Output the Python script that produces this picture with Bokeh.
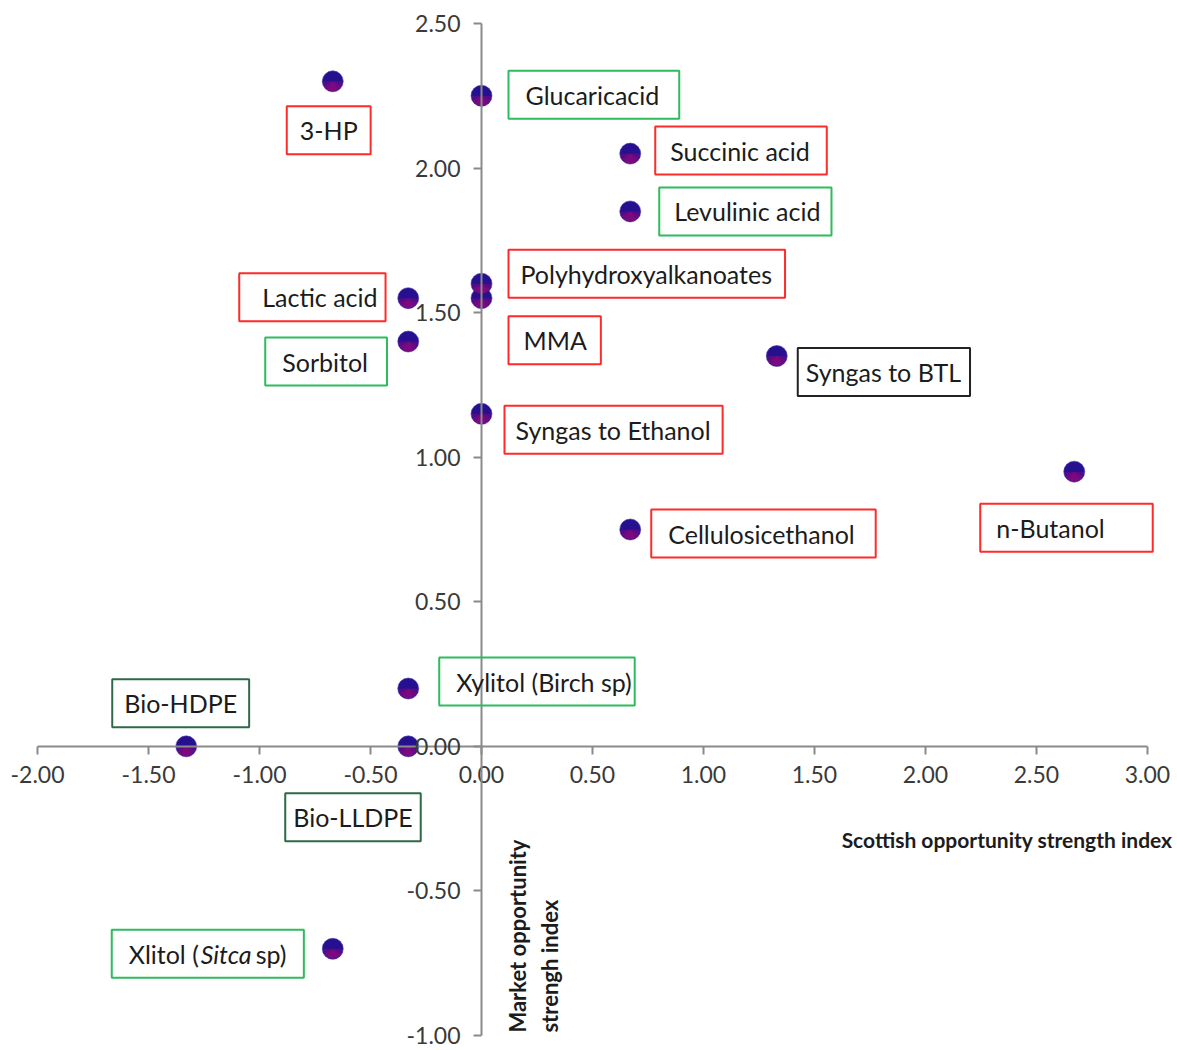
import math

from bokeh.embed import file_html
from bokeh.models import FixedTicker, Label, NumeralTickFormatter
from bokeh.plotting import figure
from bokeh.resources import INLINE

# ---- data -------------------------------------------------------------
products = [
    "3-HP", "Glucaricacid", "Succinic acid", "Levulinic acid",
    "Polyhydroxyalkanoates", "MMA", "Lactic acid", "Sorbitol",
    "Syngas to BTL", "Syngas to Ethanol", "n-Butanol", "Cellulosicethanol",
    "Xylitol (Birch sp)", "Bio-HDPE", "Bio-LLDPE", "Xlitol (Sitca sp)",
]
scottish_index = [-0.67, 0.00, 0.67, 0.67, 0.00, 0.00, -0.33, -0.33,
                  1.33, 0.00, 2.67, 0.67, -0.33, -1.33, -0.33, -0.67]
market_index = [2.30, 2.25, 2.05, 1.85, 1.60, 1.55, 1.55, 1.40,
                1.35, 1.15, 0.95, 0.75, 0.20, 0.00, 0.00, -0.70]
x_ticks = [-2.0, -1.5, -1.0, -0.5, 0.0, 0.5, 1.0, 1.5, 2.0, 2.5, 3.0]
y_ticks = [-1.0, -0.5, 0.0, 0.5, 1.0, 1.5, 2.0, 2.5]
x_title = "Scottish opportunity strength index"
y_title = ["Market opportunity", "strengh index"]

# ---- label styling: border colour, box offset from point (px), padding ----
RED, GREEN, BLACK, DARKGREEN = "#ff2a2a", "#2dbb5d", "#222222", "#2e6a48"
box_colour = [RED, GREEN, RED, GREEN, RED, RED, RED, GREEN,
              BLACK, RED, RED, RED, GREEN, DARKGREEN, DARKGREEN, GREEN]
box_dx = [-46, 27, 25, 29, 27, 27, -169, -143, 21, 23, -94, 21, 31, -74, -123, -221]
box_dy = [-49, 1, 3, 0, 10, -42, 1, -20, -16, -16, -56, -4, 7, 43, -71, -5]
pad_left = [13, 17, 15, 15, 12, 15, 23, 17, 8, 11, 16, 17, 17, 12, 8, 17]
pad_right = [13, 20, 17, 11, 13, 14, 8, 19, 9, 12, 48, 21, 3, 12, 8, 105]
PAD_V = 9

FONT = "Lato"
LABEL_SIZE = "25px"

# the frame fills the canvas; axes span -2..3 and -1..2.5 inside it
PX_PER_X = 222.0
PX_PER_Y = 289.14
x_lo, x_hi = -2.0 - 37 / PX_PER_X, 3.0 + 30 / PX_PER_X
y_lo, y_hi = -1.0 - 15 / PX_PER_Y, 2.5 + 23 / PX_PER_Y

p = figure(
    width=1177, height=1050,
    x_range=(x_lo, x_hi), y_range=(y_lo, y_hi),
    output_backend="svg", toolbar_location=None, title=None,
    min_border=0,
)
p.outline_line_color = None
p.grid.visible = False
p.background_fill_color = "white"
p.border_fill_color = "white"

# axes crossing at the origin
for ax, ticks, bounds in ((p.xaxis[0], x_ticks, (-2, 3)),
                          (p.yaxis[0], y_ticks, (-1, 2.5))):
    ax.fixed_location = 0
    ax.bounds = bounds
    ax.ticker = FixedTicker(ticks=ticks)
    ax.formatter = NumeralTickFormatter(format="0.00")
    ax.minor_tick_line_color = None
    ax.major_tick_in = 0
    ax.major_tick_out = 8
    ax.axis_line_color = "#8a8a8a"
    ax.axis_line_width = 2
    ax.major_tick_line_color = "#8a8a8a"
    ax.major_tick_line_width = 2
    ax.major_label_text_font = FONT
    ax.major_label_text_font_size = "23px"
    ax.major_label_text_color = "#3a3a3a"
p.xaxis.major_label_standoff = 12
p.yaxis.major_label_standoff = 13

# ---- markers: dark blue circle with a magenta lower shade --------------
p.scatter(scottish_index, market_index, size=21, fill_color="#27108f",
          line_color="#4a3fb0", line_alpha=0.6, line_width=1)
for start, end in ((1.0, 2.0), (1.15, 1.85), (1.3, 1.7)):
    p.wedge(scottish_index, market_index, radius=10, radius_units="screen",
            start_angle=start * math.pi, end_angle=end * math.pi,
            fill_color="#93087a", fill_alpha=0.4, line_color=None)


# ---- boxed labels ------------------------------------------------------
def boxed(text, x, y, dx, dy, colour, pl, pr, style="normal", border=True):
    lab = Label(
        x=x, y=y, x_offset=dx, y_offset=dy, text=text,
        text_font=FONT, text_font_size=LABEL_SIZE, text_font_style=style,
        text_color="#1c1c1c", text_align="left", text_baseline="middle",
    )
    if border:
        lab.border_line_color = colour
        lab.border_line_width = 2
        lab.padding = (pl, pr, PAD_V, PAD_V)
    p.add_layout(lab)


for i, name in enumerate(products):
    x, y = scottish_index[i], market_index[i]
    if name == "Xlitol (Sitca sp)":
        # species name set in italics
        boxed("Xlitol (", x, y, box_dx[i], box_dy[i], box_colour[i],
              pad_left[i], pad_right[i])
        boxed("Sitca", x, y, box_dx[i] + 89, box_dy[i], None, 0, 0,
              style="italic", border=False)
        boxed("sp)", x, y, box_dx[i] + 144, box_dy[i], None, 0, 0,
              border=False)
    else:
        boxed(name, x, y, box_dx[i], box_dy[i], box_colour[i],
              pad_left[i], pad_right[i])

# ---- axis titles -------------------------------------------------------
p.add_layout(Label(x=3.113, y=-0.3235, text=x_title, text_font=FONT,
                   text_font_size="21px", text_font_style="bold",
                   text_color="#1c1c1c", text_align="right",
                   text_baseline="middle"))
for line, xpos in zip(y_title, (0.162, 0.307)):
    p.add_layout(Label(x=xpos, y=-0.99, text=line, angle=math.pi / 2,
                       text_font=FONT, text_font_size="22px",
                       text_font_style="bold", text_color="#1c1c1c",
                       text_align="left", text_baseline="middle"))

open("out.html", "w").write(file_html(p, INLINE))
